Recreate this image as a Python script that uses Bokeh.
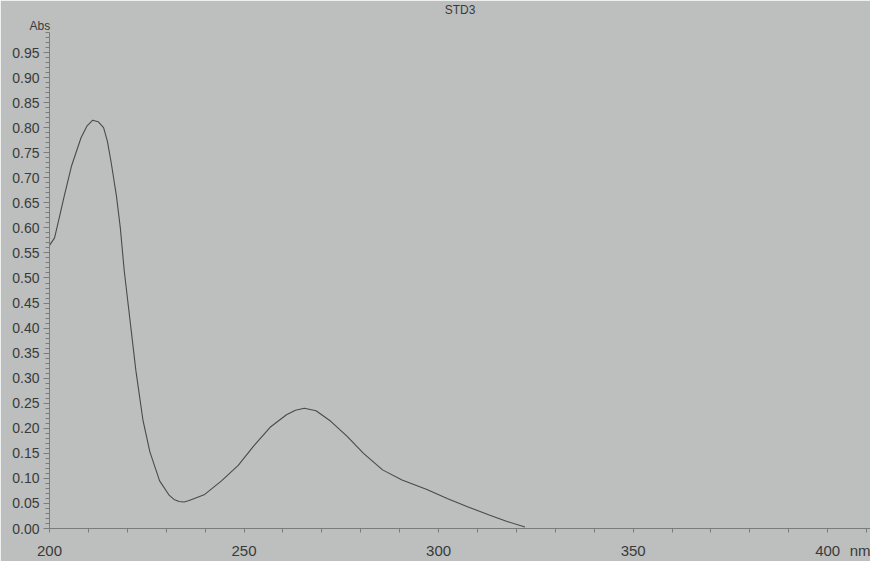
from bokeh.plotting import figure
from bokeh.models import FixedTicker, NumeralTickFormatter, Range1d, Title
from bokeh.embed import file_html
from bokeh.resources import INLINE

title_text = "STD3"
x_label = "nm"
y_label = "Abs"

wavelength = [200.0, 201.3, 202.5, 203.8, 205.6, 208.1, 209.6, 211.1, 212.5, 213.9,
              214.9, 215.9, 217.2, 218.2, 219.2, 222.2, 224.0, 225.8, 228.3, 230.8,
              232.0, 233.3, 234.6, 235.9, 239.9, 244.2, 248.5, 252.5, 256.7, 260.9,
              263.2, 265.5, 268.5, 272.3, 276.5, 280.7, 285.6, 290.6, 297.0, 302.2,
              307.6, 313.0, 317.6, 322.2]
absorbance = [0.565, 0.580, 0.620, 0.664, 0.722, 0.780, 0.803, 0.815, 0.812, 0.800,
              0.772, 0.728, 0.664, 0.600, 0.515, 0.315, 0.217, 0.153, 0.095, 0.066,
              0.058, 0.054, 0.053, 0.056, 0.068, 0.095, 0.126, 0.165, 0.202, 0.227,
              0.236, 0.240, 0.235, 0.214, 0.184, 0.150, 0.117, 0.097, 0.078, 0.060,
              0.043, 0.027, 0.014, 0.003]

x_major = [200, 250, 300, 350, 400]
x_unit_pos = 409
x_minor = [v for v in range(200, 411, 10)]
y_major = [round(i * 0.05, 2) for i in range(20)]
y_minor = [round(i * 0.01, 2) for i in range(100)]

BG = "#bcbfbe"
TXT = "#3a3a3a"
AX = "#7a7c7b"

p = figure(width=870, height=561, output_backend="svg", toolbar_location=None,
           title=title_text,
           x_range=Range1d(200, 411), y_range=Range1d(0, 0.99),
           min_border_left=49, min_border_right=0, min_border_top=26, min_border_bottom=30)
p.background_fill_color = BG
p.border_fill_color = BG
p.outline_line_color = BG
p.outline_line_width = 2
p.xgrid.visible = False
p.ygrid.visible = False

p.title.align = "center"
p.title.offset = -13
p.title.standoff = 0
p.title.text_font = "Liberation Sans"
p.title.text_font_size = "12px"
p.title.text_font_style = "normal"
p.title.text_color = TXT

abs_title = Title(text=y_label, align="left", offset=-20, standoff=0,
                  text_font="Liberation Sans", text_font_size="12px",
                  text_font_style="normal", text_color=TXT)
p.add_layout(abs_title, "above")

p.line(wavelength, absorbance, line_color="#4a4a4a", line_width=1.1)

xa = p.xaxis[0]
xa.ticker = FixedTicker(ticks=x_major + [x_unit_pos], minor_ticks=x_minor)
xa.major_label_overrides = {x_unit_pos: x_label}
xa.axis_line_color = AX
xa.major_tick_line_color = AX
xa.minor_tick_line_color = AX
xa.major_tick_in = 0
xa.major_tick_out = 0
xa.minor_tick_in = 0
xa.minor_tick_out = 4
xa.major_label_standoff = 9
xa.major_label_text_font = "Liberation Sans"
xa.major_label_text_font_size = "15px"
xa.major_label_text_color = TXT

ya = p.yaxis[0]
ya.ticker = FixedTicker(ticks=y_major, minor_ticks=y_minor)
ya.formatter = NumeralTickFormatter(format="0.00")
ya.axis_line_color = AX
ya.major_tick_line_color = AX
ya.minor_tick_line_color = AX
ya.major_tick_in = 0
ya.major_tick_out = 6
ya.minor_tick_in = 0
ya.minor_tick_out = 4
ya.major_label_standoff = 4
ya.major_label_text_font = "Liberation Sans"
ya.major_label_text_font_size = "14px"
ya.major_label_text_color = TXT

open("out.html", "w").write(file_html(p, INLINE))
